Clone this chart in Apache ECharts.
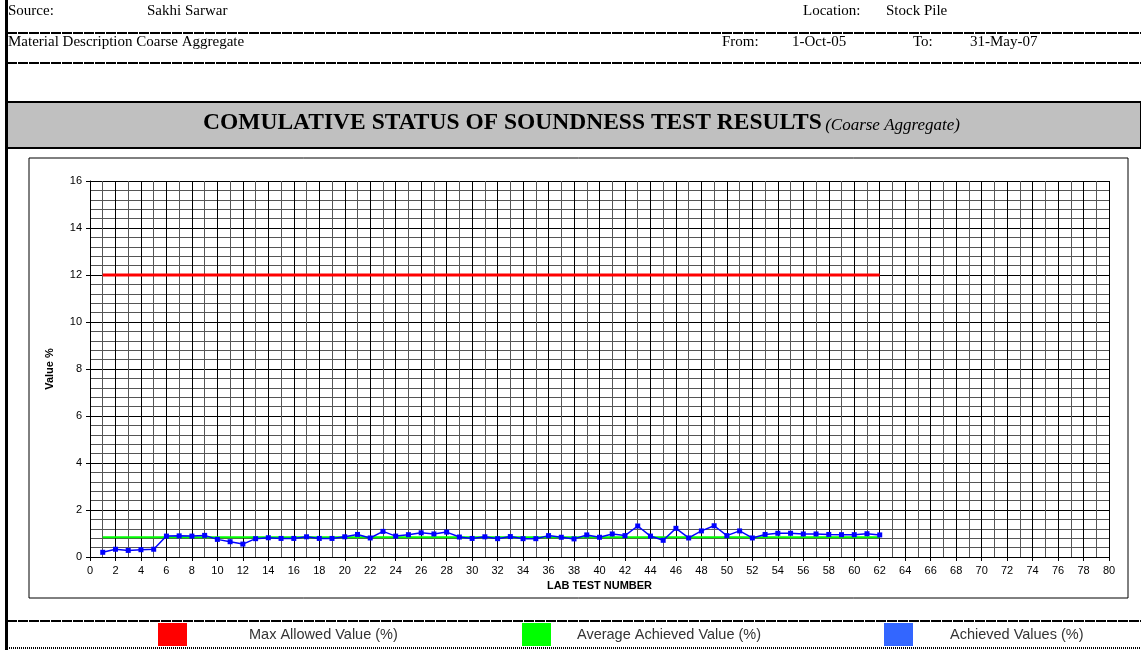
<!DOCTYPE html>
<html>
<head>
<meta charset="utf-8">
<script src="https://cdn.jsdelivr.net/npm/echarts@6/dist/echarts.min.js"></script>
<style>
  body { margin: 0; background: #fff; }
  #chart { width: 1141px; height: 650px; }
</style>
</head>
<body>
<div id="chart"></div>
<script>
// values
const achievedValues = [
  0.20, 0.33, 0.28, 0.31, 0.33, 0.89, 0.90, 0.89, 0.92, 0.75,
  0.65, 0.55, 0.78, 0.82, 0.79, 0.79, 0.86, 0.79, 0.79, 0.86,
  0.96, 0.81, 1.09, 0.89, 0.95, 1.03, 0.98, 1.06, 0.85, 0.79,
  0.86, 0.78, 0.87, 0.78, 0.78, 0.91, 0.84, 0.77, 0.94, 0.84,
  0.98, 0.91, 1.32, 0.89, 0.71, 1.22, 0.81, 1.11, 1.33, 0.91,
  1.11, 0.81, 0.96, 1.01, 1.01, 0.98, 0.98, 0.96, 0.95, 0.95,
  0.99, 0.94
];
const maxAllowed = 12;
const avgAchieved = 0.84;
const legendNames = ['Max Allowed Value (%)', 'Average Achieved Value (%)', 'Achieved Values (%)'];
const legendColors = ['#ff0000', '#00ff00', '#3366ff'];

const headerLeft = [['Source:', 'Sakhi Sarwar'], ['Material Description', 'Coarse Aggregate']];

const chart = echarts.init(document.getElementById('chart'));

const achievedData = achievedValues.map((v, i) => [i + 1, v]);
const maxData = achievedValues.map((v, i) => [i + 1, maxAllowed]);
const avgData = achievedValues.map((v, i) => [i + 1, avgAchieved]);

const serif = '"Liberation Serif", "Times New Roman", serif';
const sans = '"Liberation Sans", Arial, sans-serif';

function hText(x, y, text, extra) {
  return Object.assign({
    type: 'text', left: x, top: y,
    style: { text: text, font: '15px ' + serif, fill: '#000' }
  }, extra || {});
}
function dashLine(y, dash, w) {
  return {
    type: 'line',
    shape: { x1: 7, y1: y, x2: 1141, y2: y },
    style: { stroke: '#000', lineWidth: w, lineDash: dash }
  };
}

const graphics = [
  // left border of the sheet
  { type: 'rect', shape: { x: 5, y: 0, width: 3, height: 650 }, style: { fill: '#000' } },
  hText(8, 4, headerLeft[0][0]),
  hText(147, 4, headerLeft[0][1]),
  hText(8, 35, headerLeft[1][0] + ' ' + headerLeft[1][1]),
  hText(803, 4, 'Location:'),
  hText(886, 4, 'Stock Pile'),
  hText(722, 35, 'From:'),
  hText(792, 35, '1-Oct-05'),
  hText(913, 35, 'To:'),
  hText(970, 35, '31-May-07'),
  dashLine(33, [10, 1], 2),
  dashLine(63, [10, 1], 2),
  // title band
  { type: 'rect', shape: { x: 7, y: 102, width: 1134, height: 46 },
    style: { fill: '#c0c0c0', stroke: '#000', lineWidth: 2 } },
  {
    type: 'text', left: 203, top: 111,
    style: {
      rich: {
        a: { font: 'bold 23.5px ' + serif, fill: '#000' },
        b: { font: 'italic 17px ' + serif, fill: '#000', padding: [5, 0, 0, 0] }
      },
      text: '{a|COMULATIVE STATUS OF SOUNDNESS TEST RESULTS} {b|(Coarse Aggregate)}'
    }
  },
  // chart area frame
  { type: 'rect', shape: { x: 29, y: 158, width: 1099, height: 440 },
    style: { fill: 'none', stroke: '#000', lineWidth: 1 } },
  // legend row
  dashLine(621, [10, 1], 2),
  dashLine(648, [1, 1], 2)
];

const legendLefts = [158, 522, 884];
const legendPads = [57, 21, 32];

chart.setOption({
  animation: false,
  backgroundColor: '#fff',
  graphic: graphics,
  legend: legendNames.map((n, i) => ({
    left: legendLefts[i], top: 623, padding: 0,
    icon: 'rect', itemWidth: 29, itemHeight: 23,
    selectedMode: false,
    data: [{ name: n, itemStyle: { color: legendColors[i], borderWidth: 0 } }],
    textStyle: { fontFamily: sans, fontSize: 14.5, color: '#333', padding: [0, 0, 0, legendPads[i]] }
  })),
  grid: { left: 90, top: 181, width: 1019, height: 376 },
  xAxis: {
    type: 'value', min: 0, max: 80, interval: 2,
    name: 'LAB TEST NUMBER', nameLocation: 'middle', nameGap: 22,
    nameTextStyle: { fontFamily: sans, fontWeight: 'bold', fontSize: 11, color: '#000' },
    axisLine: { lineStyle: { color: '#000' } },
    axisTick: { lineStyle: { color: '#000' }, length: 4 },
    axisLabel: { fontFamily: sans, fontSize: 11, color: '#000', margin: 8 },
    splitLine: { show: true, lineStyle: { color: '#000', width: 1 } },
    minorTick: { show: false, splitNumber: 2 },
    minorSplitLine: { show: true, lineStyle: { color: '#555', width: 1 } }
  },
  yAxis: {
    type: 'value', min: 0, max: 16, interval: 2,
    name: 'Value %', nameLocation: 'middle', nameGap: 35, nameRotate: 90,
    nameTextStyle: { fontFamily: sans, fontWeight: 'bold', fontSize: 11, color: '#000' },
    axisLine: { show: true, lineStyle: { color: '#000' } },
    axisTick: { show: true, lineStyle: { color: '#000' }, length: 4 },
    axisLabel: { fontFamily: sans, fontSize: 11, color: '#000', margin: 8 },
    splitLine: { show: true, lineStyle: { color: '#000', width: 1 } },
    minorTick: { show: false, splitNumber: 5 },
    minorSplitLine: { show: true, lineStyle: { color: '#555', width: 1 } }
  },
  series: [
    {
      name: legendNames[0], type: 'line', data: maxData, showSymbol: false,
      lineStyle: { color: '#ff0000', width: 3 }, itemStyle: { color: '#ff0000' }
    },
    {
      name: legendNames[1], type: 'line', data: avgData, showSymbol: false,
      lineStyle: { color: '#00ff00', width: 2 }, itemStyle: { color: '#00ff00' }
    },
    {
      name: legendNames[2], type: 'line', data: achievedData,
      symbol: 'rect', symbolSize: 5, showAllSymbol: true,
      lineStyle: { color: '#0000ff', width: 1.5 }, itemStyle: { color: '#0000ff' }
    }
  ]
});
</script>
</body>
</html>
